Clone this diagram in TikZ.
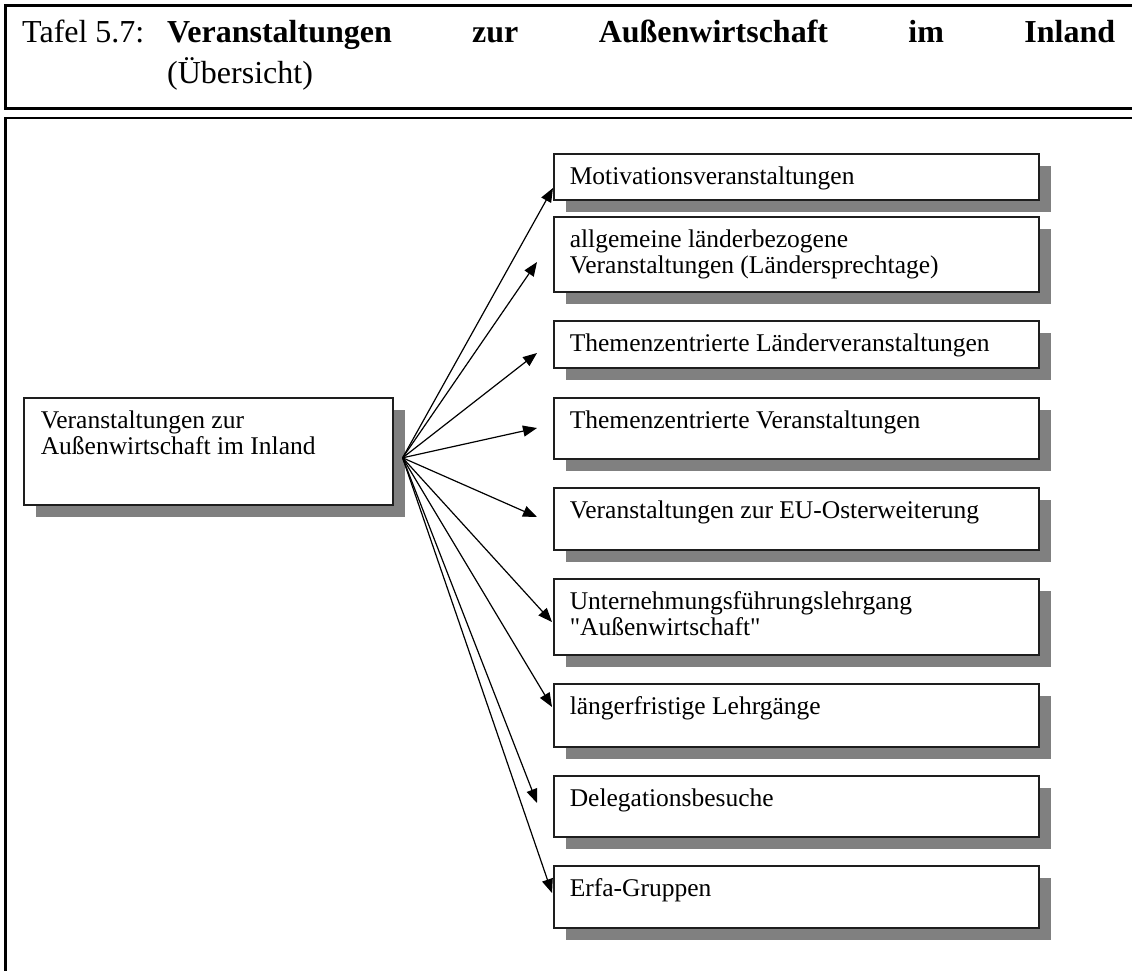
\documentclass[tikz,border=0pt]{standalone}
\usepackage{fontspec}
\setmainfont{Liberation Serif}[Ligatures=TeXOff]
\usetikzlibrary{arrows.meta,shadows}
\definecolor{shadowgray}{HTML}{808080}
\definecolor{edgecol}{HTML}{1E1E1E}
\newcommand\bxt[3]{\parbox[c][#2][t]{#1}{\fontsize{25.5}{26}\selectfont\parindent=0pt\leftskip=16pt\vspace*{13pt}\rule{0pt}{18pt}#3}}
\begin{document}
\begin{tikzpicture}[x=1pt,y=-1pt,
  box/.style={draw=edgecol,line width=1.6pt,fill=white,inner sep=0pt,anchor=north west,
    general shadow={fill=shadowgray,shadow xshift=12.5pt,shadow yshift=-12.5pt}},
  arr/.style={line width=1.2pt,-{Triangle[length=14pt,width=11pt]}},
  frame/.style={line width=2.6pt},
  head/.style={inner sep=0pt,anchor=base west,font=\fontsize{32}{41}\selectfont}]
\useasboundingbox (0,0) rectangle (1132,970);
% frames
\draw[frame] (1140,5.3) -| (5.3,108.3) -- (1140,108.3);
\draw[frame] (1140,118) -| (5.3,990);
% header
\node[head] (h1) at (22,42) {Tafel 5.7:};
\node[head] (h2) at (167,42) {\makebox[948pt][s]{\textbf{Veranstaltungen zur Außenwirtschaft im Inland}}};
\node[head] (h3) at (167,83) {(Übersicht)};
% main box
\node[box] (m) at (23,397) {\bxt{369pt}{107pt}{\leftskip=17pt Veranstaltungen zur\\Außenwirtschaft im Inland}};
% right boxes
\node[box] (b1) at (553,153) {\bxt{485pt}{46pt}{Motivationsveranstaltungen}};
\node[box] (b2) at (553,216) {\bxt{485pt}{75pt}{allgemeine länderbezogene\\Veranstaltungen (Ländersprechtage)}};
\node[box] (b3) at (553,320) {\bxt{485pt}{47pt}{Themenzentrierte Länderveranstaltungen}};
\node[box] (b4) at (553,397) {\bxt{485pt}{61pt}{Themenzentrierte Veranstaltungen}};
\node[box] (b5) at (553,487) {\bxt{485pt}{62pt}{Veranstaltungen zur EU-Osterweiterung}};
\node[box] (b6) at (553,578) {\bxt{485pt}{76pt}{Unternehmungsführungslehrgang\\"Außenwirtschaft"}};
\node[box] (b7) at (553,683) {\bxt{485pt}{63pt}{längerfristige Lehrgänge}};
\node[box] (b8) at (553,775) {\bxt{485pt}{61pt}{Delegationsbesuche}};
\node[box] (b9) at (553,865) {\bxt{485pt}{62pt}{Erfa-Gruppen}};
% arrows
\coordinate (o) at ([xshift=9pt,yshift=-6.5pt]m.east);
\coordinate (e1) at (553,188);
\coordinate (e2) at (537,262);
\coordinate (e3) at (537,353);
\coordinate (e4) at (537,428);
\coordinate (e5) at (537,517);
\coordinate (e6) at (552,622);
\coordinate (e7) at (552,707);
\coordinate (e8) at (537,803);
\coordinate (e9) at (552,893);
\foreach \i in {1,...,9} {\draw[arr] (o) -- (e\i);}
\end{tikzpicture}
\end{document}
